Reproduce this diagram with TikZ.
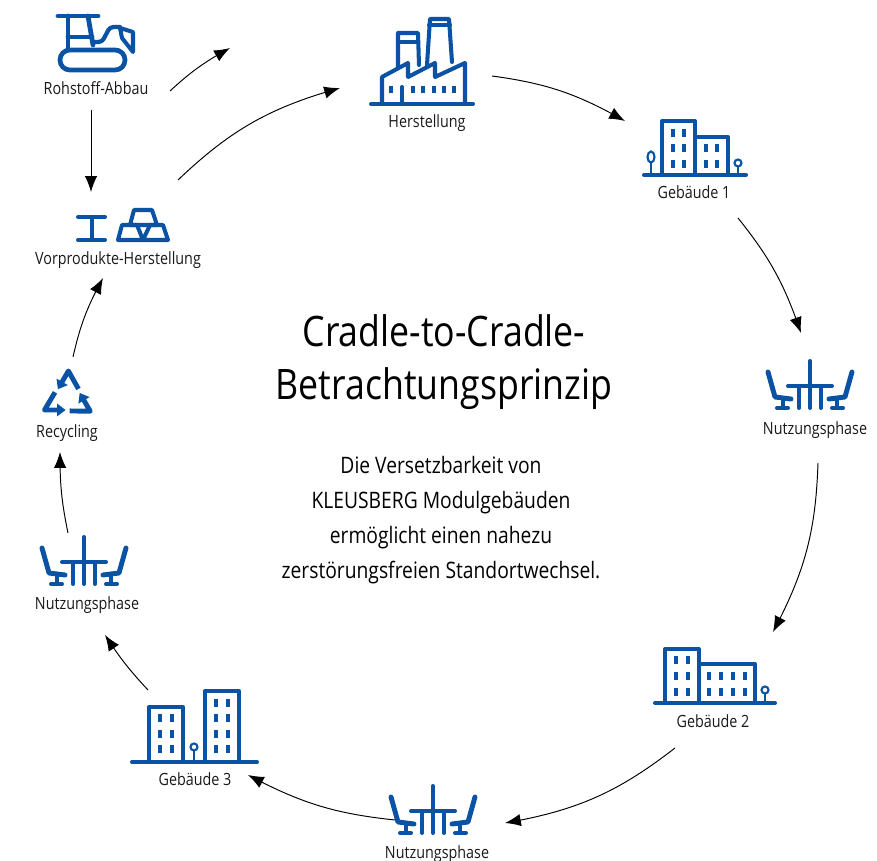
\documentclass[tikz,border=0pt]{standalone}
\usepackage{fontspec}
\setmainfont{Open Sans}[FakeStretch=0.85]
\usetikzlibrary{arrows.meta,bending}
\definecolor{kblau}{HTML}{0A52A3}
\tikzset{
  icon/.style={draw=kblau,line width=2.3pt,line cap=round,line join=round},
  duenn/.style={draw=kblau,line width=1.2pt},
  fenster/.style={draw=kblau,line width=2pt},
  pfeil/.style={draw=black,line width=0.55pt,-{Latex[length=9pt,width=7pt]}},
  label/.style={font=\fontsize{9.6}{10}\selectfont,inner sep=0pt,text=black!90},
  tisch/.pic={
    \draw[icon] (0,0) -- (0,47);
    \draw[icon] (-22,25) -- (22,25);
    \draw[icon] (-11,25) -- (-11,47);
    \draw[icon] (11,25) -- (11,47);
    \foreach \s in {-1,1}{
      \draw[icon,line width=2.8pt] (\s*42,11) -- (\s*35,36) -- (\s*19,38);
      \draw[icon] (\s*27,37) -- (\s*27,47);
      \draw[icon] (\s*33,47) -- (\s*22,47);
    }
  }
}
\begin{document}
\begin{tikzpicture}[x=0.02cm,y=-0.02cm]
\useasboundingbox (0,0) rectangle (877,861);

% Rohstoff-Abbau
\draw[icon,line width=2.7pt] (58,16) -- (98,16);
\draw[icon,line width=2.7pt] (68,16) -- (68,50);
\draw[icon,line width=2.7pt] (88,16) -- (93,45);
\draw[icon,line width=2.7pt] (68,37) -- (92,37);
\draw[icon,line width=2.7pt,rounded corners=5.6pt] (60,50) rectangle (125,70);
\draw[icon,line width=2.4pt,rounded corners=2pt] (93,42) -- (102,42) -- (110,27) -- (120,27);
\draw[icon] (120,28) -- (133,32) -- (133,52) -- (122,38) -- cycle;
\node[label] (abbau) at (96,88) {Rohstoff-Abbau};

% Vorprodukte
\draw[icon] (78,217) -- (105,217);
\draw[icon] (78,240) -- (105,240);
\draw[icon] (92,217) -- (92,240);
\draw[icon] (130,225) -- (134,210) -- (152,210) -- (157,225) -- cycle;
\draw[icon] (118,240) -- (122,225) -- (137,225) -- (143,240) -- cycle;
\draw[icon] (143,240) -- (150,225) -- (163,225) -- (168,240) -- cycle;
\node[label] (vorprodukte) at (118,260) {Vorprodukte-Herstellung};

% Herstellung
\draw[icon] (371,104) -- (473,104);
\draw[icon] (382,104) -- (382,77) -- (408,63) -- (408,77) -- (435,63) -- (435,77) -- (465,63) -- (465,104);
\draw[icon] (398,68) -- (398,33) -- (418,33) -- (419,65);
\draw[icon] (398,42) -- (418,42);
\draw[icon] (427,65) -- (430,19) -- (449,19) -- (452,62);
\draw[icon] (429,25) -- (450,25);
\draw[icon] (402,87) -- (402,104);
\foreach \x in {391,413,423,434,444,454}
  \draw[fenster] (\x,86) -- (\x,93);
\node[label] (herstellung) at (427,123) {Herstellung};

% Gebaeude 1
\draw[icon] (644,175) -- (746,175);
\draw[icon] (662,175) -- (662,121) -- (695,121) -- (695,175);
\draw[icon] (695,137) -- (728,137) -- (728,175);
\foreach \x in {673,684} \foreach \y in {133,148,164}
  \draw[fenster] (\x,\y-4) -- (\x,\y+4);
\foreach \x in {706,717} \foreach \y in {148,164}
  \draw[fenster] (\x,\y-4) -- (\x,\y+4);
\draw[duenn] (651,157) ellipse (3.5 and 5.5);
\draw[duenn] (651,162.5) -- (651,175);
\draw[duenn] (738,163) circle (3.5);
\draw[duenn] (738,166.5) -- (738,175);
\node[label] (gebaeudeA) at (694,192) {Gebäude 1};

% Nutzungsphase rechts
\pic at (810,361) {tisch};
\node[label] (nutzungA) at (815,430) {Nutzungsphase};

% Gebaeude 2
\draw[icon] (655,703) -- (775,703);
\draw[icon] (665,703) -- (665,649) -- (699,649) -- (699,703);
\draw[icon] (699,664) -- (755,664) -- (755,703);
\foreach \x in {676,688} \foreach \y in {660,676,692}
  \draw[fenster] (\x,\y-4) -- (\x,\y+4);
\foreach \x in {709,721,733,745} \foreach \y in {676,692}
  \draw[fenster] (\x,\y-4) -- (\x,\y+4);
\draw[duenn] (765,690) circle (3.5);
\draw[duenn] (765,693.5) -- (765,703);
\node[label] (gebaeudeB) at (713,721) {Gebäude 2};

% Nutzungsphase unten
\pic at (433,786) {tisch};
\node[label] (nutzungB) at (437,854) {Nutzungsphase};

% Gebaeude 3
\draw[icon] (132,762) -- (257,762);
\draw[icon] (149,762) -- (149,707) -- (183,707) -- (183,762);
\draw[icon] (205,762) -- (205,691) -- (239,691) -- (239,762);
\foreach \x in {160,172} \foreach \y in {718,734,749}
  \draw[fenster] (\x,\y-4) -- (\x,\y+4);
\foreach \x in {216,228} \foreach \y in {703,718,734,749}
  \draw[fenster] (\x,\y-4) -- (\x,\y+4);
\draw[duenn] (194,747) circle (3.5);
\draw[duenn] (194,750.5) -- (194,762);
\node[label] (gebaeudeC) at (195,779) {Gebäude 3};

% Nutzungsphase links
\pic at (84,537) {tisch};
\node[label] (nutzungC) at (87,605) {Nutzungsphase};

% Recycling
\foreach \a in {0,120,240}{
  \begin{scope}[rotate around={\a:(67.7,397.4)}]
    \draw[icon,line width=2.8pt,line cap=butt] (55,392.3) -- (44.5,410) -- (58,410);
    \fill[kblau] (65.5,410) -- (57,403.5) -- (57,416.5) -- cycle;
  \end{scope}
}
\node[label] (recycling) at (67,433) {Recycling};

% Mitte
\node[font=\fontsize{23.9}{30}\selectfont,align=center,inner sep=0pt] (titel) at (444,362) {Cradle-to-Cradle-\\Betrachtungsprinzip};
\node[font=\fontsize{12.9}{19.8}\selectfont,align=center,inner sep=0pt] (text) at (441,520) {Die Versetzbarkeit von\\KLEUSBERG Modulgebäuden\\ermöglicht einen nahezu\\zerstörungsfreien Standortwechsel.};

% Pfeile
\coordinate (a1) at (91,110);   \coordinate (a2) at (91,192);
\coordinate (b1) at (170,91);   \coordinate (b2) at (230,48);
\coordinate (c1) at (178,180);  \coordinate (c2) at (340,88);
\coordinate (d1) at (492,76);   \coordinate (d2) at (625,121);
\coordinate (e1) at (738,218);  \coordinate (e2) at (801,333);
\coordinate (f1) at (818,463);  \coordinate (f2) at (773,632);
\coordinate (g1) at (675,748);  \coordinate (g2) at (505,823);
\coordinate (h1) at (395,820);  \coordinate (h2) at (248,775);
\coordinate (i1) at (148,690);  \coordinate (i2) at (105,635);
\coordinate (j1) at (68,533);   \coordinate (j2) at (60,452);
\coordinate (k1) at (73,357);   \coordinate (k2) at (103,278);
\draw[pfeil] (a1) -- (a2);
\draw[pfeil] (b1) to[bend left=7] (b2);
\draw[pfeil] (c1) to[bend left=14] (c2);
\draw[pfeil] (d1) to[bend left=11] (d2);
\draw[pfeil] (e1) to[bend left=10] (e2);
\draw[pfeil] (f1) to[bend left=13] (f2);
\draw[pfeil] (g1) to[bend left=14] (g2);
\draw[pfeil] (h1) to[bend left=11] (h2);
\draw[pfeil] (i1) to[bend left=5] (i2);
\draw[pfeil] (j1) to[bend left=6] (j2);
\draw[pfeil] (k1) to[bend left=8] (k2);
\end{tikzpicture}
\end{document}
